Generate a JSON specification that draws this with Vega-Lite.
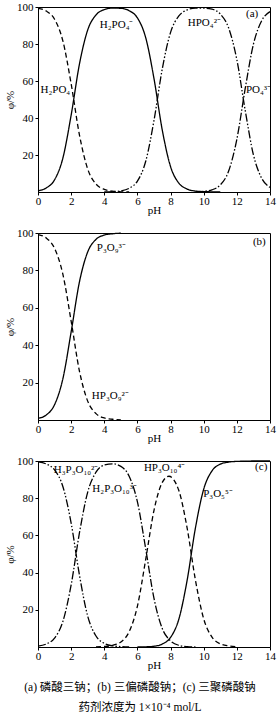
{
  "$schema": "https://vega.github.io/schema/vega-lite/v6.json",
  "padding": {"left": 4, "top": 0, "right": 4, "bottom": 10},
  "bounds": "flush",
  "spacing": 41,
  "datasets": {
    "a": [
      {"pH": 0, "v": 99.3, "s": "H3PO4"}, {"pH": 0.5, "v": 97.8, "s": "H3PO4"}, {"pH": 1, "v": 93.4, "s": "H3PO4"}, {"pH": 1.5, "v": 81.7, "s": "H3PO4"}, {"pH": 2, "v": 58.5, "s": "H3PO4"}, {"pH": 2.5, "v": 30.9, "s": "H3PO4"}, {"pH": 3, "v": 12.4, "s": "H3PO4"}, {"pH": 3.5, "v": 4.3, "s": "H3PO4"}, {"pH": 4, "v": 1.4, "s": "H3PO4"}, {"pH": 4.5, "v": 0.4, "s": "H3PO4"}, {"pH": 5, "v": 0.1, "s": "H3PO4"}, {"pH": 5.5, "v": 0, "s": "H3PO4"},
      {"pH": 0, "v": 0.7, "s": "H2PO4"}, {"pH": 0.5, "v": 2.2, "s": "H2PO4"}, {"pH": 1, "v": 6.6, "s": "H2PO4"}, {"pH": 1.5, "v": 18.3, "s": "H2PO4"}, {"pH": 2, "v": 41.5, "s": "H2PO4"}, {"pH": 2.5, "v": 69.1, "s": "H2PO4"}, {"pH": 3, "v": 87.6, "s": "H2PO4"}, {"pH": 3.5, "v": 95.7, "s": "H2PO4"}, {"pH": 4, "v": 98.6, "s": "H2PO4"}, {"pH": 4.5, "v": 99.4, "s": "H2PO4"}, {"pH": 5, "v": 99.3, "s": "H2PO4"}, {"pH": 5.5, "v": 98.0, "s": "H2PO4"}, {"pH": 6, "v": 94.1, "s": "H2PO4"}, {"pH": 6.5, "v": 83.4, "s": "H2PO4"}, {"pH": 7, "v": 61.3, "s": "H2PO4"}, {"pH": 7.5, "v": 33.4, "s": "H2PO4"}, {"pH": 8, "v": 13.7, "s": "H2PO4"}, {"pH": 8.5, "v": 4.8, "s": "H2PO4"}, {"pH": 9, "v": 1.6, "s": "H2PO4"}, {"pH": 9.5, "v": 0.5, "s": "H2PO4"}, {"pH": 10, "v": 0.2, "s": "H2PO4"}, {"pH": 10.5, "v": 0.1, "s": "H2PO4"}, {"pH": 11, "v": 0, "s": "H2PO4"},
      {"pH": 4, "v": 0, "s": "HPO4"}, {"pH": 4.5, "v": 0.2, "s": "HPO4"}, {"pH": 5, "v": 0.6, "s": "HPO4"}, {"pH": 5.5, "v": 2.0, "s": "HPO4"}, {"pH": 6, "v": 5.9, "s": "HPO4"}, {"pH": 6.5, "v": 16.6, "s": "HPO4"}, {"pH": 7, "v": 38.7, "s": "HPO4"}, {"pH": 7.5, "v": 66.6, "s": "HPO4"}, {"pH": 8, "v": 86.3, "s": "HPO4"}, {"pH": 8.5, "v": 95.2, "s": "HPO4"}, {"pH": 9, "v": 98.4, "s": "HPO4"}, {"pH": 9.5, "v": 99.4, "s": "HPO4"}, {"pH": 10, "v": 99.4, "s": "HPO4"}, {"pH": 10.5, "v": 98.8, "s": "HPO4"}, {"pH": 11, "v": 96.2, "s": "HPO4"}, {"pH": 11.5, "v": 88.8, "s": "HPO4"}, {"pH": 12, "v": 71.5, "s": "HPO4"}, {"pH": 12.5, "v": 44.3, "s": "HPO4"}, {"pH": 13, "v": 20.1, "s": "HPO4"}, {"pH": 13.5, "v": 7.4, "s": "HPO4"}, {"pH": 14, "v": 2.5, "s": "HPO4"},
      {"pH": 9.5, "v": 0.1, "s": "PO4"}, {"pH": 10, "v": 0.4, "s": "PO4"}, {"pH": 10.5, "v": 1.2, "s": "PO4"}, {"pH": 11, "v": 3.8, "s": "PO4"}, {"pH": 11.5, "v": 11.2, "s": "PO4"}, {"pH": 12, "v": 28.5, "s": "PO4"}, {"pH": 12.5, "v": 55.7, "s": "PO4"}, {"pH": 13, "v": 79.9, "s": "PO4"}, {"pH": 13.5, "v": 92.6, "s": "PO4"}, {"pH": 14, "v": 97.5, "s": "PO4"}
    ],
    "aL": [
      {"pH": 0.15, "v": 55, "t": "H₂PO₄"},
      {"pH": 3.73, "v": 90.5, "t": "H₂PO₄⁻"},
      {"pH": 9.04, "v": 91.5, "t": "HPO₄²⁻"},
      {"pH": 12.55, "v": 55, "t": "PO₄³⁻"},
      {"pH": 12.55, "v": 96, "t": "(a)"}
    ],
    "b": [
      {"pH": 0, "v": 99.1, "s": "HP3O9"}, {"pH": 0.5, "v": 97.3, "s": "HP3O9"}, {"pH": 1, "v": 91.8, "s": "HP3O9"}, {"pH": 1.5, "v": 78.0, "s": "HP3O9"}, {"pH": 2, "v": 52.9, "s": "HP3O9"}, {"pH": 2.5, "v": 26.2, "s": "HP3O9"}, {"pH": 3, "v": 10.1, "s": "HP3O9"}, {"pH": 3.5, "v": 3.4, "s": "HP3O9"}, {"pH": 4, "v": 1.1, "s": "HP3O9"}, {"pH": 4.5, "v": 0.4, "s": "HP3O9"}, {"pH": 5, "v": 0.1, "s": "HP3O9"},
      {"pH": 0, "v": 0.9, "s": "P3O9"}, {"pH": 0.5, "v": 2.7, "s": "P3O9"}, {"pH": 1, "v": 8.2, "s": "P3O9"}, {"pH": 1.5, "v": 22.0, "s": "P3O9"}, {"pH": 2, "v": 47.1, "s": "P3O9"}, {"pH": 2.5, "v": 73.8, "s": "P3O9"}, {"pH": 3, "v": 89.9, "s": "P3O9"}, {"pH": 3.5, "v": 96.6, "s": "P3O9"}, {"pH": 4, "v": 98.9, "s": "P3O9"}, {"pH": 4.5, "v": 99.6, "s": "P3O9"}, {"pH": 5, "v": 99.9, "s": "P3O9"}
    ],
    "bL": [
      {"pH": 3.55, "v": 92, "t": "P₃O₉³⁻"},
      {"pH": 3.25, "v": 13, "t": "HP₃O₉²⁻"},
      {"pH": 12.97, "v": 95, "t": "(b)"}
    ],
    "c": [
      {"pH": 0, "v": 99.5, "s": "H3P3O10"}, {"pH": 0.5, "v": 98.4, "s": "H3P3O10"}, {"pH": 1, "v": 95.2, "s": "H3P3O10"}, {"pH": 1.5, "v": 86.3, "s": "H3P3O10"}, {"pH": 2, "v": 66.6, "s": "H3P3O10"}, {"pH": 2.5, "v": 38.7, "s": "H3P3O10"}, {"pH": 3, "v": 16.6, "s": "H3P3O10"}, {"pH": 3.5, "v": 5.9, "s": "H3P3O10"}, {"pH": 4, "v": 1.95, "s": "H3P3O10"}, {"pH": 4.5, "v": 0.6, "s": "H3P3O10"}, {"pH": 5, "v": 0.2, "s": "H3P3O10"}, {"pH": 5.5, "v": 0, "s": "H3P3O10"},
      {"pH": 0, "v": 0.5, "s": "H2P3O10"}, {"pH": 0.5, "v": 1.6, "s": "H2P3O10"}, {"pH": 1, "v": 4.8, "s": "H2P3O10"}, {"pH": 1.5, "v": 13.7, "s": "H2P3O10"}, {"pH": 2, "v": 33.4, "s": "H2P3O10"}, {"pH": 2.5, "v": 61.3, "s": "H2P3O10"}, {"pH": 3, "v": 83.3, "s": "H2P3O10"}, {"pH": 3.5, "v": 94.0, "s": "H2P3O10"}, {"pH": 4, "v": 97.8, "s": "H2P3O10"}, {"pH": 4.5, "v": 98.5, "s": "H2P3O10"}, {"pH": 5, "v": 97.1, "s": "H2P3O10"}, {"pH": 5.5, "v": 91.8, "s": "H2P3O10"}, {"pH": 6, "v": 78.0, "s": "H2P3O10"}, {"pH": 6.5, "v": 52.8, "s": "H2P3O10"}, {"pH": 7, "v": 26.1, "s": "H2P3O10"}, {"pH": 7.5, "v": 9.9, "s": "H2P3O10"}, {"pH": 8, "v": 3.3, "s": "H2P3O10"}, {"pH": 8.5, "v": 0.9, "s": "H2P3O10"}, {"pH": 9, "v": 0.2, "s": "H2P3O10"}, {"pH": 9.5, "v": 0, "s": "H2P3O10"},
      {"pH": 3.5, "v": 0.1, "s": "HP3O10"}, {"pH": 4, "v": 0.3, "s": "HP3O10"}, {"pH": 4.5, "v": 0.9, "s": "HP3O10"}, {"pH": 5, "v": 2.7, "s": "HP3O10"}, {"pH": 5.5, "v": 8.2, "s": "HP3O10"}, {"pH": 6, "v": 22.0, "s": "HP3O10"}, {"pH": 6.5, "v": 47.1, "s": "HP3O10"}, {"pH": 7, "v": 73.5, "s": "HP3O10"}, {"pH": 7.5, "v": 88.5, "s": "HP3O10"}, {"pH": 7.9, "v": 91.8, "s": "HP3O10"}, {"pH": 8.5, "v": 84.1, "s": "HP3O10"}, {"pH": 9, "v": 63.9, "s": "HP3O10"}, {"pH": 9.5, "v": 36.0, "s": "HP3O10"}, {"pH": 10, "v": 15.1, "s": "HP3O10"}, {"pH": 10.5, "v": 5.3, "s": "HP3O10"}, {"pH": 11, "v": 1.7, "s": "HP3O10"}, {"pH": 11.5, "v": 0.6, "s": "HP3O10"}, {"pH": 12, "v": 0.2, "s": "HP3O10"},
      {"pH": 6, "v": 0, "s": "P3O10"}, {"pH": 6.5, "v": 0.1, "s": "P3O10"}, {"pH": 7, "v": 0.4, "s": "P3O10"}, {"pH": 7.5, "v": 1.6, "s": "P3O10"}, {"pH": 8, "v": 5.2, "s": "P3O10"}, {"pH": 8.5, "v": 15.0, "s": "P3O10"}, {"pH": 9, "v": 35.9, "s": "P3O10"}, {"pH": 9.5, "v": 64.0, "s": "P3O10"}, {"pH": 10, "v": 84.9, "s": "P3O10"}, {"pH": 10.5, "v": 94.7, "s": "P3O10"}, {"pH": 11, "v": 98.3, "s": "P3O10"}, {"pH": 11.5, "v": 99.4, "s": "P3O10"}, {"pH": 12, "v": 99.8, "s": "P3O10"}, {"pH": 12.5, "v": 99.9, "s": "P3O10"}, {"pH": 13, "v": 100, "s": "P3O10"}, {"pH": 14, "v": 100, "s": "P3O10"}
    ],
    "cL": [
      {"pH": 0.95, "v": 95, "t": "H₃P₃O₁₀²⁻"},
      {"pH": 3.28, "v": 85, "t": "H₂P₃O₁₀³⁻"},
      {"pH": 6.39, "v": 96, "t": "HP₃O₁₀⁴⁻"},
      {"pH": 9.97, "v": 82, "t": "P₃O₅⁵⁻"},
      {"pH": 13.1, "v": 97, "t": "(c)"}
    ],
    "cap": [
      {"line": "1", "t": "(a) 磷酸三钠；(b) 三偏磷酸钠；(c) 三聚磷酸钠"},
      {"line": "2", "t": "药剂浓度为 1×10⁻⁴ mol/L"}
    ]
  },
  "vconcat": [
    {
      "width": 232, "height": 185,
      "layer": [
        {
          "data": {"name": "a"},
          "mark": {"type": "line", "interpolate": "monotone", "color": "black", "strokeWidth": 1.3},
          "encoding": {
            "x": {"field": "pH", "type": "quantitative", "scale": {"domain": [0, 14], "nice": false}, "axis": {"values": [0, 2, 4, 6, 8, 10, 12, 14], "tickCount": 8, "title": "pH", "labelOverlap": false}},
            "y": {"field": "v", "type": "quantitative", "scale": {"domain": [0, 100]}, "axis": {"values": [20, 40, 60, 80, 100], "title": "φ/%"}},
            "strokeDash": {"field": "s", "type": "nominal", "scale": {"domain": ["H3PO4", "H2PO4", "HPO4", "PO4"], "range": [[5, 3], [1, 0], [8, 2, 1.5, 2, 1.5, 2], [8, 2, 1.5, 2]]}, "legend": null}
          }
        },
        {
          "data": {"name": "aL"},
          "mark": {"type": "text", "font": "Liberation Serif", "fontSize": 11, "align": "left", "baseline": "middle", "color": "black"},
          "encoding": {
            "x": {"field": "pH", "type": "quantitative"},
            "y": {"field": "v", "type": "quantitative"},
            "text": {"field": "t"}
          }
        }
      ]
    },
    {
      "width": 232, "height": 187,
      "layer": [
        {
          "data": {"name": "b"},
          "mark": {"type": "line", "interpolate": "monotone", "color": "black", "strokeWidth": 1.3},
          "encoding": {
            "x": {"field": "pH", "type": "quantitative", "scale": {"domain": [0, 14], "nice": false}, "axis": {"values": [0, 2, 4, 6, 8, 10, 12, 14], "tickCount": 8, "title": "pH", "labelOverlap": false}},
            "y": {"field": "v", "type": "quantitative", "scale": {"domain": [0, 100]}, "axis": {"values": [20, 40, 60, 80, 100], "title": "φ/%"}},
            "strokeDash": {"field": "s", "type": "nominal", "scale": {"domain": ["HP3O9", "P3O9"], "range": [[5, 3], [1, 0]]}, "legend": null}
          }
        },
        {
          "data": {"name": "bL"},
          "mark": {"type": "text", "font": "Liberation Serif", "fontSize": 11, "align": "left", "baseline": "middle", "color": "black"},
          "encoding": {
            "x": {"field": "pH", "type": "quantitative"},
            "y": {"field": "v", "type": "quantitative"},
            "text": {"field": "t"}
          }
        }
      ]
    },
    {
      "width": 232, "height": 186,
      "layer": [
        {
          "data": {"name": "c"},
          "mark": {"type": "line", "interpolate": "monotone", "color": "black", "strokeWidth": 1.3},
          "encoding": {
            "x": {"field": "pH", "type": "quantitative", "scale": {"domain": [0, 14], "nice": false}, "axis": {"values": [0, 2, 4, 6, 8, 10, 12, 14], "tickCount": 8, "title": "pH", "labelOverlap": false}},
            "y": {"field": "v", "type": "quantitative", "scale": {"domain": [0, 100]}, "axis": {"values": [20, 40, 60, 80, 100], "title": "φ/%"}},
            "strokeDash": {"field": "s", "type": "nominal", "scale": {"domain": ["H3P3O10", "H2P3O10", "HP3O10", "P3O10"], "range": [[8, 2, 1.5, 2], [5, 3], [1, 0], [8, 2, 1.5, 2, 1.5, 2]]}, "legend": null}
          }
        },
        {
          "data": {"name": "cL"},
          "mark": {"type": "text", "font": "Liberation Serif", "fontSize": 11, "align": "left", "baseline": "middle", "color": "black"},
          "encoding": {
            "x": {"field": "pH", "type": "quantitative"},
            "y": {"field": "v", "type": "quantitative"},
            "text": {"field": "t"}
          }
        }
      ]
    },
    {
      "width": 232, "height": 20,
      "view": {"stroke": null},
      "data": {"name": "cap"},
      "mark": {"type": "text", "font": "Liberation Serif, Noto Sans CJK SC", "fontSize": 11.5, "align": "center", "baseline": "middle", "color": "black", "dx": -14},
      "encoding": {
        "y": {"field": "line", "type": "ordinal", "axis": null, "scale": {"type": "point", "padding": 0}},
        "text": {"field": "t"}
      }
    }
  ],
  "config": {
    "view": {"stroke": "black", "strokeWidth": 1},
    "font": "Liberation Serif",
    "axis": {
      "labelFont": "Liberation Serif", "titleFont": "Liberation Serif",
      "labelFontSize": 11, "titleFontSize": 11, "titleFontWeight": "normal",
      "labelColor": "black", "titleColor": "black", "domainColor": "black", "tickColor": "black",
      "grid": false, "tickSize": 3, "labelFlush": false
    },
    "axisX": {"titlePadding": -2, "tickSize": 3, "labelPadding": 0},
    "axisY": {"titlePadding": 1, "labelPadding": 2}
  }
}
